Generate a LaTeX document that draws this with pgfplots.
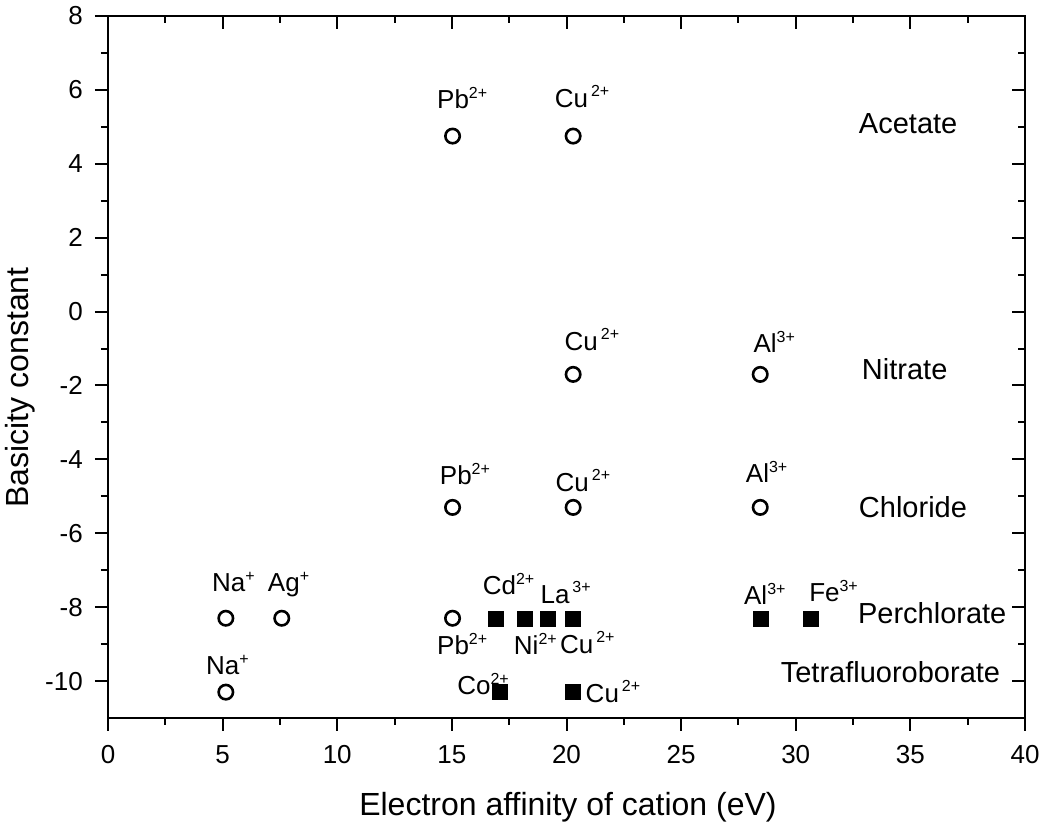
\documentclass[border=0pt]{standalone}
\usepackage{fontspec}
\setmainfont{Liberation Sans}
\usepackage{pgfplots}
\pgfplotsset{compat=1.18}

% cation label: symbol with raised charge
\newcommand{\ion}[2]{#1\raisebox{10pt}{\fontsize{16}{16}\selectfont #2}}
\newcommand{\ionsp}[2]{#1\hspace{3pt}\raisebox{11pt}{\fontsize{16}{16}\selectfont #2}}

\pgfplotsset{
  frame/.style={
    at={(0,0)}, anchor=south west,
    width=917pt, height=702pt, scale only axis,
    xmin=0, xmax=40, ymin=-11, ymax=8,
    xtick={0,5,...,40}, ytick={-10,-8,...,8},
    minor x tick num=1, minor y tick num=1,
    major tick length=13pt, minor tick length=7pt,
    axis line style={line width=2pt},
    tick style={line width=2pt, black},
  },
}

\begin{document}
\begin{tikzpicture}
\useasboundingbox (-108pt,-109pt) rectangle (942pt,718pt);

% mirrored inward ticks on top and right
\begin{axis}[frame,
  xtick pos=top, ytick pos=right, tick align=inside,
  xticklabels={}, yticklabels={},
]
\end{axis}

\begin{axis}[frame,
  xtick pos=bottom, ytick pos=left, tick align=outside,
  clip=false,
  /pgf/number format/assume math mode=true,
  ticklabel style={font=\fontsize{26}{26}\selectfont, inner sep=0pt},
  xticklabel style={anchor=north, yshift=-14pt},
  yticklabel style={anchor=east, xshift=-12pt},
  xlabel={Electron affinity of cation (eV)},
  ylabel={Basicity constant},
  label style={font=\fontsize{32}{32}\selectfont},
  x label style={at={(axis description cs:0.5016,-0.127)}, anchor=center},
  y label style={at={(axis description cs:-0.096,0.471)}, anchor=center},
]
% open circles
\addplot[only marks, mark=o, mark size=7.2pt,
  mark options={line width=2.6pt, draw=black, fill=white}] coordinates {
  (15.03,4.75) (20.29,4.75)
  (20.29,-1.7) (28.45,-1.7)
  (15.03,-5.3) (20.29,-5.3) (28.45,-5.3)
  (5.14,-8.3) (7.58,-8.3) (15.03,-8.3)
  (5.14,-10.3)
};
% filled squares
\addplot[only marks, mark=square*, mark size=7.5pt,
  mark options={draw=black, fill=black}] coordinates {
  (16.91,-8.3) (18.17,-8.3) (19.18,-8.3) (20.29,-8.3)
  (28.45,-8.3) (30.65,-8.3)
  (17.08,-10.3) (20.29,-10.3)
};

% cation labels
\begin{scope}[every node/.style={anchor=base west, inner sep=0pt,
    font=\fontsize{26}{26}\selectfont}]
  \node at (axis cs:14.35,5.50) {\ion{Pb}{2+}};
  \node at (axis cs:19.48,5.51) {\ionsp{Cu}{2+}};
  \node at (axis cs:19.91,-1.04) {\ionsp{Cu}{2+}};
  \node at (axis cs:28.15,-1.11) {\ion{Al}{3+}};
  \node at (axis cs:14.47,-4.69) {\ion{Pb}{2+}};
  \node at (axis cs:19.52,-4.87) {\ionsp{Cu}{2+}};
  \node at (axis cs:27.82,-4.63) {\ion{Al}{3+}};
  \node at (axis cs:4.53,-7.58) {\ion{Na}{+}};
  \node at (axis cs:6.97,-7.58) {\ion{Ag}{+}};
  \node at (axis cs:4.27,-9.83) {\ion{Na}{+}};
  \node at (axis cs:16.34,-7.67) {\ion{Cd}{2+}};
  \node at (axis cs:18.86,-7.91) {\ionsp{La}{3+}};
  \node at (axis cs:14.35,-9.29) {\ion{Pb}{2+}};
  \node at (axis cs:17.70,-9.29) {\ion{Ni}{2+}};
  \node at (axis cs:19.71,-9.25) {\ionsp{Cu}{2+}};
  \node at (axis cs:15.23,-10.37) {\ion{Co}{2+}};
  \node at (axis cs:20.83,-10.58) {\ionsp{Cu}{2+}};
  \node at (axis cs:27.74,-7.94) {\ion{Al}{3+}};
  \node at (axis cs:30.58,-7.85) {\ion{Fe}{3+}};
\end{scope}

% anion labels
\begin{scope}[every node/.style={anchor=base west, inner sep=0pt,
    font=\fontsize{29}{29}\selectfont}]
  \node at (axis cs:32.75,4.83) {Acetate};
  \node at (axis cs:32.88,-1.85) {Nitrate};
  \node at (axis cs:32.75,-5.56) {Chloride};
  \node at (axis cs:32.71,-8.43) {Perchlorate};
  \node at (axis cs:29.34,-10.05) {Tetrafluoroborate};
\end{scope}
\end{axis}
\end{tikzpicture}
\end{document}
